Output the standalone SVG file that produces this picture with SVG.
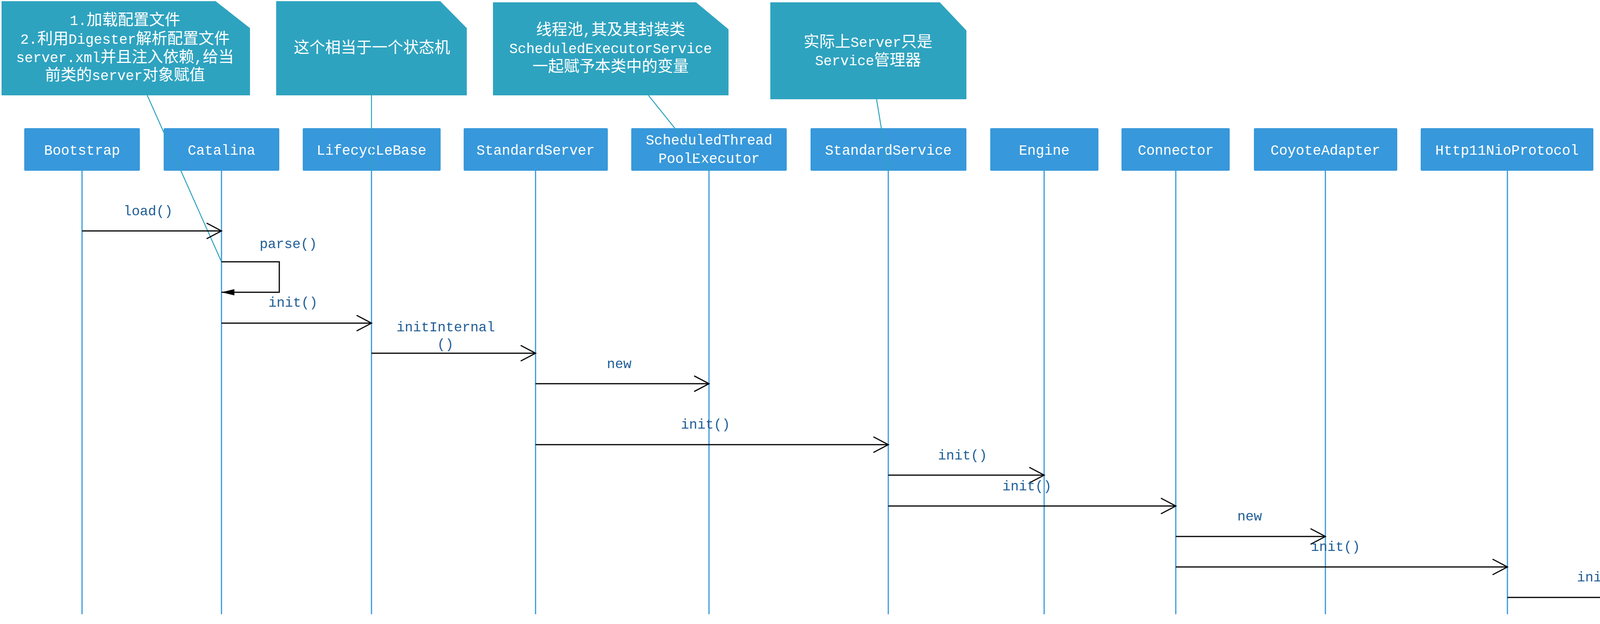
<svg xmlns="http://www.w3.org/2000/svg" width="5088" height="1597" viewBox="0 0 5088 1597">
<style>
.hdr{fill:#3798DB;}
.ht{font-family:"Liberation Mono","Noto Sans CJK SC",monospace;font-size:36px;fill:#FFFFFF;text-anchor:middle;}
.note{fill:#2EA3BF;}
.nt{font-family:"Liberation Mono","Noto Sans CJK SC",monospace;font-size:40px;fill:#FFFFFF;text-anchor:middle;}
.lat{font-size:36px;}
.life{stroke:#3798DB;stroke-width:3;fill:none;}
.msg{stroke:#000000;stroke-width:3;fill:none;marker-end:url(#open);}
.self{stroke:#000000;stroke-width:3;fill:none;marker-end:url(#filled);}
.link{stroke:#2EA3BF;stroke-width:2.5;fill:none;}
.lbl{font-family:"Liberation Mono","Noto Sans CJK SC",monospace;font-size:35px;fill:#1F5F97;text-anchor:middle;}
</style>
<defs>
<marker id="open" markerUnits="userSpaceOnUse" markerWidth="50" markerHeight="50" viewBox="-45 -25 50 50" refX="0" refY="0" orient="auto" overflow="visible">
<path d="M-38,-20 L0,0 L-38,20" fill="none" stroke="#000000" stroke-width="3"/>
</marker>
<marker id="filled" markerUnits="userSpaceOnUse" markerWidth="40" markerHeight="20" viewBox="-36 -10 40 20" refX="0" refY="0" orient="auto" overflow="visible">
<path d="M-33,-8 L0,0 L-33,8 Z" fill="#000000"/>
</marker>
</defs>
<rect x="0" y="0" width="5088" height="1597" fill="#FFFFFF"/>

<g id="note1">
<polygon class="note" points="4,3 552,3 640,72 640,244 4,244"/>
<text class="nt" x="320" y="64"><tspan class="lat">1.</tspan>加载配置文件</text>
<text class="nt" x="320" y="112"><tspan class="lat">2.</tspan>利用<tspan class="lat">Digester</tspan>解析配置文件</text>
<text class="nt" x="320" y="159"><tspan class="lat">server.xml</tspan>并且注入依赖<tspan class="lat">,</tspan>给当</text>
<text class="nt" x="320" y="205">前类的<tspan class="lat">server</tspan>对象赋值</text>
</g>
<g id="note2">
<polygon class="note" points="707,3 1127,3 1195,72 1195,244 707,244"/>
<text class="nt" x="952" y="135">这个相当于一个状态机</text>
</g>
<g id="note3">
<polygon class="note" points="1262,6 1782,6 1865,75 1865,244 1262,244"/>
<text class="nt" x="1563" y="89">线程池<tspan class="lat">,</tspan>其及其封装类</text>
<text class="nt" x="1563" y="136"><tspan class="lat">ScheduledExecutorService</tspan></text>
<text class="nt" x="1563" y="183">一起赋予本类中的变量</text>
</g>
<g id="note4">
<polygon class="note" points="1972,6 2406,6 2474,78 2474,254 1972,254"/>
<text class="nt" x="2222" y="120">实际上<tspan class="lat">Server</tspan>只是</text>
<text class="nt" x="2222" y="167"><tspan class="lat">Service</tspan>管理器</text>
</g>

<g id="Bootstrap">
<rect class="hdr" x="62" y="328" width="296" height="109" rx="3"/>
<text class="ht" x="210" y="396">Bootstrap</text>
<line class="life" x1="210" y1="437" x2="210" y2="1572"/>
</g>
<g id="Catalina">
<rect class="hdr" x="419" y="328" width="296" height="109" rx="3"/>
<text class="ht" x="567" y="396">Catalina</text>
<line class="life" x1="567" y1="437" x2="567" y2="1572"/>
</g>
<g id="LifecycleBase">
<rect class="hdr" x="775" y="328" width="353" height="109" rx="3"/>
<text class="ht" x="951" y="396">LifecycLeBase</text>
<line class="life" x1="951" y1="437" x2="951" y2="1572"/>
</g>
<g id="StandardServer">
<rect class="hdr" x="1187" y="328" width="369" height="109" rx="3"/>
<text class="ht" x="1371" y="396">StandardServer</text>
<line class="life" x1="1371" y1="437" x2="1371" y2="1572"/>
</g>
<g id="ScheduledThreadPoolExecutor">
<rect class="hdr" x="1616" y="328" width="398" height="109" rx="3"/>
<text class="ht" x="1815" y="370">ScheduledThread</text>
<text class="ht" x="1815" y="417">PoolExecutor</text>
<line class="life" x1="1815" y1="437" x2="1815" y2="1572"/>
</g>
<g id="StandardService">
<rect class="hdr" x="2075" y="328" width="399" height="109" rx="3"/>
<text class="ht" x="2274" y="396">StandardService</text>
<line class="life" x1="2274" y1="437" x2="2274" y2="1572"/>
</g>
<g id="Engine">
<rect class="hdr" x="2535" y="328" width="277" height="109" rx="3"/>
<text class="ht" x="2673" y="396">Engine</text>
<line class="life" x1="2673" y1="437" x2="2673" y2="1572"/>
</g>
<g id="Connector">
<rect class="hdr" x="2871" y="328" width="277" height="109" rx="3"/>
<text class="ht" x="3010" y="396">Connector</text>
<line class="life" x1="3010" y1="437" x2="3010" y2="1572"/>
</g>
<g id="CoyoteAdapter">
<rect class="hdr" x="3210" y="328" width="367" height="109" rx="3"/>
<text class="ht" x="3393" y="396">CoyoteAdapter</text>
<line class="life" x1="3393" y1="437" x2="3393" y2="1572"/>
</g>
<g id="Http11NioProtocol">
<rect class="hdr" x="3637" y="328" width="442" height="109" rx="3"/>
<text class="ht" x="3858" y="396">Http11NioProtocol</text>
<line class="life" x1="3859" y1="437" x2="3859" y2="1572"/>
</g>
<g id="Endpoint">
<rect class="hdr" x="4140" y="328" width="442" height="109" rx="3"/>
<text class="ht" x="4361" y="396">Endpoint</text>
<line class="life" x1="4361" y1="437" x2="4361" y2="1572"/>
</g>
<g id="Socket">
<rect class="hdr" x="4644" y="328" width="441" height="109" rx="3"/>
<text class="ht" x="4865" y="396">Socket</text>
<line class="life" x1="4865" y1="437" x2="4865" y2="1572"/>
</g>

<g id="connectors">
<line class="link" x1="377" y1="244" x2="567" y2="670"/>
<line class="link" x1="951" y1="244" x2="951" y2="437"/>
<line class="link" x1="1660" y1="244" x2="1815" y2="437"/>
<line class="link" x1="2244" y1="254" x2="2274" y2="437"/>

<line class="msg" x1="210" y1="591" x2="567" y2="591"/>
<polyline class="self" points="567,670 715,670 715,748 567,748"/>
<line class="msg" x1="567" y1="827" x2="951" y2="827"/>
<line class="msg" x1="951" y1="904" x2="1371" y2="904"/>
<line class="msg" x1="1371" y1="982" x2="1815" y2="982"/>
<line class="msg" x1="1371" y1="1138" x2="2274" y2="1138"/>
<line class="msg" x1="2274" y1="1216" x2="2673" y2="1216"/>
<line class="msg" x1="2274" y1="1295" x2="3010" y2="1295"/>
<line class="msg" x1="3010" y1="1373" x2="3393" y2="1373"/>
<line class="msg" x1="3010" y1="1451" x2="3859" y2="1451"/>
<line class="msg" x1="3859" y1="1529" x2="4361" y2="1529"/>
<line class="msg" x1="4361" y1="1570" x2="4865" y2="1570"/>

<text class="lbl" x="379" y="551">load()</text>
<text class="lbl" x="738" y="635">parse()</text>
<text class="lbl" x="750" y="785">init()</text>
<text class="lbl" x="1141" y="848">initInternal</text>
<text class="lbl" x="1140" y="892">()</text>
<text class="lbl" x="1585" y="942">new</text>
<text class="lbl" x="1806" y="1097">init()</text>
<text class="lbl" x="2464" y="1176">init()</text>
<text class="lbl" x="2629" y="1255">init()</text>
<text class="lbl" x="3199" y="1332">new</text>
<text class="lbl" x="3419" y="1410">init()</text>
<text class="lbl" x="4100" y="1488">init()</text>
<text class="lbl" x="4604" y="1530">init()</text>
</g>
</svg>
